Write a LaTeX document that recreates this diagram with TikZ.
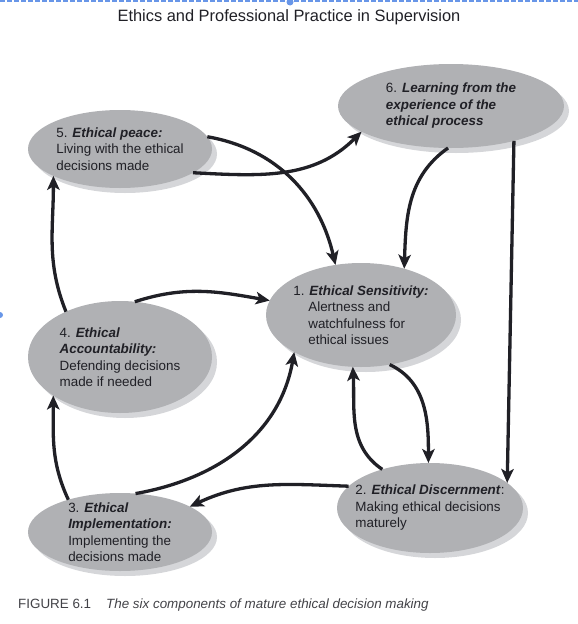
\documentclass[tikz,border=0pt]{standalone}
\usepackage{fontspec}
\setmainfont{Liberation Sans}
\usepackage{tikz}
\usetikzlibrary{arrows.meta, shapes.geometric, shadows}
\definecolor{ovalgray}{RGB}{176,177,180}
\definecolor{ovalshade}{RGB}{213,214,217}
\definecolor{inkdark}{RGB}{32,32,38}
\definecolor{selblue}{RGB}{104,150,232}
\tikzset{oval/.style={ellipse, fill=ovalgray, draw=none, inner sep=-20pt, outer sep=0pt, align=left, text=inkdark, font=\fontsize{13.4}{16.5}\selectfont, drop shadow={shadow xshift=5pt, shadow yshift=-5pt, fill=ovalshade, opacity=1}}}
\tikzset{arr/.style={draw=inkdark, line width=3.3pt, -{Stealth[length=14pt, width=12.5pt, inset=3.5pt]}}}
\tikzset{titletext/.style={inner sep=0pt, text=inkdark, font=\fontsize{16.4}{19}\selectfont}}
\tikzset{captext/.style={inner sep=0pt, text=inkdark!85, font=\fontsize{13.4}{16}\selectfont}}
\newcommand{\bi}[1]{\textbf{\textit{#1}}}

\begin{document}
\begin{tikzpicture}[x=1pt, y=1pt]
	\useasboundingbox (0,0) rectangle (578,-624);
	% selection frame of the screenshot
	\draw[selblue, line width=2pt, dash pattern=on 5pt off 2pt] (0,-1) -- (578,-1);
	\fill[selblue] (290,-2) circle (3.5);
	\fill[selblue] (0,-315) circle (3);

	\node[titletext, anchor=base] (title) at (289,-21) {Ethics and Professional Practice in Supervision};

	\node[oval, minimum width=184pt, minimum height=78pt] (peace) at (120,-149)
		{5. \bi{Ethical peace:}\\Living with the ethical\\decisions made};
	\node[oval, minimum width=226pt, minimum height=84pt] (learning) at (451,-106)
		{6. \bi{Learning from the}\\\bi{experience of the}\\\bi{ethical process}};
	\node[oval, minimum width=190pt, minimum height=104pt] (sensitivity) at (361,-315)
		{1. \bi{Ethical Sensitivity:}\\\hspace*{15pt}Alertness and\\\hspace*{15pt}watchfulness for\\\hspace*{15pt}ethical issues};
	\node[oval, minimum width=184pt, minimum height=112pt] (accountability) at (120,-357)
		{4. \bi{Ethical}\\\bi{Accountability:}\\Defending decisions\\made if needed};
	\node[oval, minimum width=184pt, minimum height=78pt] (implementation) at (120,-532)
		{3. \bi{Ethical}\\\bi{Implementation:}\\Implementing the\\decisions made};
	\node[oval, minimum width=186pt, minimum height=90pt] (discernment) at (430,-508)
		{2. \bi{Ethical Discernment}:\\Making ethical decisions\\maturely};

	\draw[arr] (peace.8) to[out=-10, in=103] (sensitivity.117);
	\draw[arr] (peace.-18) to[out=-3, in=225] (learning.196);
	\draw[arr] (learning.-94) to[out=215, in=88] (sensitivity.47);
	\draw[arr] (learning.-29) -- (discernment.18);
	\draw[arr] (sensitivity.-60) to[out=-25, in=90] (discernment.92);
	\draw[arr] (discernment.141) to[out=146, in=-87] (sensitivity.-99);
	\draw[arr] (discernment.165) to[out=178, in=25] (implementation.20);
	\draw[arr] (implementation.68) to[out=10, in=-100] (sensitivity.209);
	\draw[arr] (implementation.148) to[out=115, in=-90] (accountability.210);
	\draw[arr] (accountability.75) to[out=18, in=170] (sensitivity.171);
	\draw[arr] (accountability.140) to[out=112, in=-90] (peace.202);

	\node[captext, anchor=base west] (caption) at (18,-608)
		{FIGURE 6.1\hspace{15pt}\textit{The six components of mature ethical decision making}};
\end{tikzpicture}
\end{document}
